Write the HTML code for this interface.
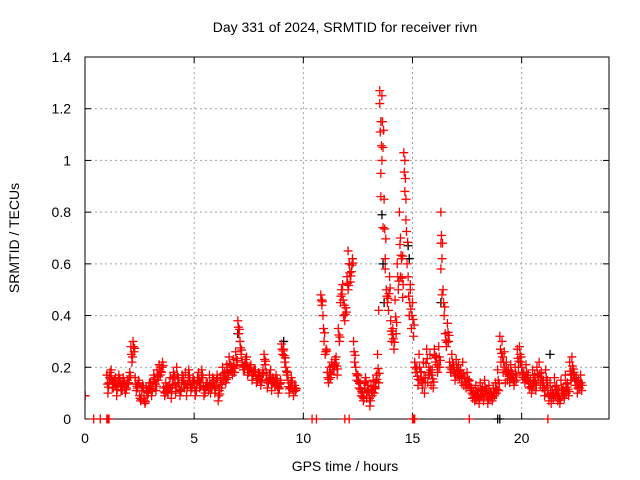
<!DOCTYPE html>
<html><head><meta charset="utf-8"><style>
body{margin:0;background:#fff}
svg{display:block;font-family:"Liberation Sans",sans-serif}
</style></head><body>
<svg id="chart" width="640" height="480" viewBox="0 0 640 480">
<rect width="640" height="480" fill="#fff"/>
<text x="345" y="32" text-anchor="middle" font-size="14">Day 331 of 2024, SRMTID for receiver rivn</text>
<g id="grid"></g>
<g id="axes"></g>
<g id="marks"></g>
<rect x="85" y="57" width="524" height="362" fill="none" stroke="#000" stroke-width="1"/>
<g id="zeros"></g>
<text x="345" y="471" text-anchor="middle" font-size="14">GPS time / hours</text>
<text x="19" y="238" text-anchor="middle" font-size="14" transform="rotate(-90 19 238)">SRMTID / TECUs</text>
</svg>
<script>
const xTicks=[0,5,10,15,20];
const yTicks=[0,0.2,0.4,0.6,0.8,1,1.2,1.4];
const yTickLabels=["0","0.2","0.4","0.6","0.8","1","1.2","1.4"];
const redStart=1.0;
const redA=[.17,.14,.19,.12,.16,.13,.15,.11,.14,.12,
.14,.28,.30,.16,.12,.09,.11,.08,.12,.10,
.14,.12,.16,.19,.21,.18,.12,.14,.10,.16,
.13,.17,.20,.14,.11,.16,.18,.13,.15,.12,
.15,.11,.18,.13,.16,.10,.14,.17,.12,.15,
.13,.07,.16,.20,.18,.21,.24,.20,.23,.26,
.38,.30,.22,.19,.24,.18,.21,.17,.19,.15,
.17,.15,.25,.18,.14,.19,.16,.13,.15,.12,
.29,.27,.20,.15,.12,.14,.13,null,null,null,
null,null,null,null,null,null,null,null,.48,.40,
.25,.18,.20,.22,.19,.24,.35,.45,.52,.38,
.55,.60,.57,.30,.20,.17,.14,.10,.12,.08,
.11,.13,.15,.12,.25,1.27,1.25,.85,.50,.42,
.38,.35,.46,.60,.80,.62,1.03,.85,.55,.50,
.45,.22,.20,.25,.18,.22,.16,.14,.25,.19,
.27,.24,.28,.80,.50,.33,.37,.22,.25,.20,
.23,.21,.19,.22,.16,.18,.15,.12,.10,.13,
.11,.14,.12,.15,.11,.13,.10,.12,.14,.19,
.32,.30,.26,.22,.19,.21,.17,.20,.27,.28,
.20,.18,.21,.17,.15,.19,.17,.20,.22,.18,
.15,.19,.12,.14,.11,.16,.13,.10,.15,.12,
.17,.14,.22,.24,.18,.16,.15,.17];
const redB=[.10,.18,.12,.15,.09,.17,.11,.16,.10,.15,
.18,.22,.26,.11,.15,.07,.13,.06,.09,.14,
.09,.17,.11,.15,.17,.22,.09,.11,.13,.08,
.18,.10,.14,.09,.17,.12,.09,.19,.11,.16,
.09,.16,.12,.19,.09,.14,.11,.10,.16,.10,
.17,.11,.12,.15,.14,.16,.19,.17,.18,.21,
.33,.25,.19,.23,.17,.20,.15,.19,.14,.18,
.13,.19,.21,.12,.17,.11,.14,.17,.10,.15,
.25,.22,.17,.10,.16,.09,.11,null,null,null,
null,null,null,null,null,null,null,null,.44,.30,
.27,.14,.16,.19,.23,.17,.30,.50,.40,.43,
.50,.53,.62,.22,.15,.12,.09,.07,.16,.13,
.05,.09,.10,.17,.14,.95,1.05,.62,.45,.55,
.30,.27,.33,.50,.55,.47,.88,.60,.40,.35,
.32,.18,.13,.15,.12,.10,.27,.20,.13,.12,
.22,.18,.20,.62,.40,.28,.30,.18,.19,.15,
.17,.16,.14,.13,.12,.13,.11,.08,.07,.08,
.06,.09,.07,.10,.06,.08,.07,.09,.10,.11,
.22,.18,.14,.15,.14,.16,.13,.15,.20,.22,
.16,.14,.15,.12,.10,.13,.11,.15,.13,.12,
.09,.13,.07,.06,.08,.09,.07,.06,.09,.08,
.10,.09,.15,.17,.13,.10,.12,.11];
const extraHours=[0.0,13.5,13.55,13.6,13.65,13.55,14.65,14.7,14.55,13.45,16.3,16.3,16.35,10.85,12.05,13.75,14.45,14.9];
const extraVals=[0.09,1.22,1.15,1.0,0.74,0.86,1.0,0.77,0.63,0.42,0.68,0.58,0.48,0.46,0.65,0.58,0.70,0.52];
const blackHours=[0.0,12.1,13.6,13.65,13.7,14.8,14.85,16.3,9.1,7.0,21.3];
const blackVals=[0.09,0.60,0.79,0.60,0.45,0.67,0.62,0.45,0.30,0.33,0.25];
const zeroRedHours=[0.4,0.7,1.0,1.05,1.1,10.4,10.6,11.9,12.1,15.0,15.05,15.1,17.6,21.2];
const zeroBlackHours=[18.9,19.0];

const X0=85,X1=609,Y0=419,Y1=57,XMAX=24,YMAX=1.4;
const xs=h=>X0+(X1-X0)*h/XMAX;
const ys=v=>Y0-(Y0-Y1)*v/YMAX;
const NS="http://www.w3.org/2000/svg";
function mk(tag,attrs,parent){const e=document.createElementNS(NS,tag);for(const k in attrs)e.setAttribute(k,attrs[k]);parent.appendChild(e);return e;}
const grid=document.getElementById('grid'),axes=document.getElementById('axes'),marks=document.getElementById('marks'),zeros=document.getElementById('zeros');
xTicks.forEach((t,i)=>{const x=xs(t);
 if(t>0){const g=mk('line',{x1:x,x2:x,y1:Y1,y2:Y0,stroke:'#a0a0a0','stroke-dasharray':'2,3'},grid);
 
 }
 const a=mk('line',{x1:x,x2:x,y1:Y0,y2:Y0-6,stroke:'#000'},axes);
 
 
 const b=mk('line',{x1:x,x2:x,y1:Y1,y2:Y1+6,stroke:'#000'},axes);
 
 
 const l=mk('text',{x:x,y:443,'text-anchor':'middle','font-size':'14'},axes);l.textContent=String(t);
 
 
});
yTicks.forEach((t,i)=>{const y=ys(t);
 if(t>0&&t<YMAX){const g=mk('line',{x1:X0,x2:X1,y1:y,y2:y,stroke:'#a0a0a0','stroke-dasharray':'2,3'},grid);
 
 }
 const a=mk('line',{x1:X0,x2:X0+6,y1:y,y2:y,stroke:'#000'},axes);
 
 
 const b=mk('line',{x1:X1,x2:X1-6,y1:y,y2:y,stroke:'#000'},axes);
 
 
 const l=mk('text',{x:71,y:y+5,'text-anchor':'end','font-size':'14'},axes);l.textContent=yTickLabels[i];
 
 
});
const clip=mk('clipPath',{id:'pc'},document.getElementById('chart'));
mk('rect',{x:X0,y:Y1,width:X1-X0,height:Y0-Y1},clip);
marks.setAttribute('clip-path','url(#pc)');
function cross(h,v,color,name,parent){const x=xs(h),y=ys(v),s=4.5;
 const p=mk('path',{d:`M${x-s} ${y}H${x+s}M${x} ${y-s}V${y+s}`,stroke:color,'stroke-width':'1.3',fill:'none'},parent||marks);
 
 }
blackHours.forEach((h,i)=>cross(h,blackVals[i],'#000','black-point'));
redA.forEach((v,i)=>{const h=redStart+0.1*i;const w=redB[i];
 if(v!==null)cross(h,v,'#f00','red-point');
 if(w!==null)cross(h+0.05,w,'#f00','red-point');
 if(v!==null&&w!==null){cross(h+0.025,(v+w)/2,'#f00','red-point');cross(h+0.075,(2*w+v)/3,'#f00','red-point');}
});
extraHours.forEach((h,i)=>cross(h,extraVals[i],'#f00','red-spike-point'));
zeroBlackHours.forEach(h=>cross(h,0,'#000','black-zero-point',zeros));
zeroRedHours.forEach(h=>cross(h,0,'#f00','red-zero-point',zeros));
</script>
</body></html>
